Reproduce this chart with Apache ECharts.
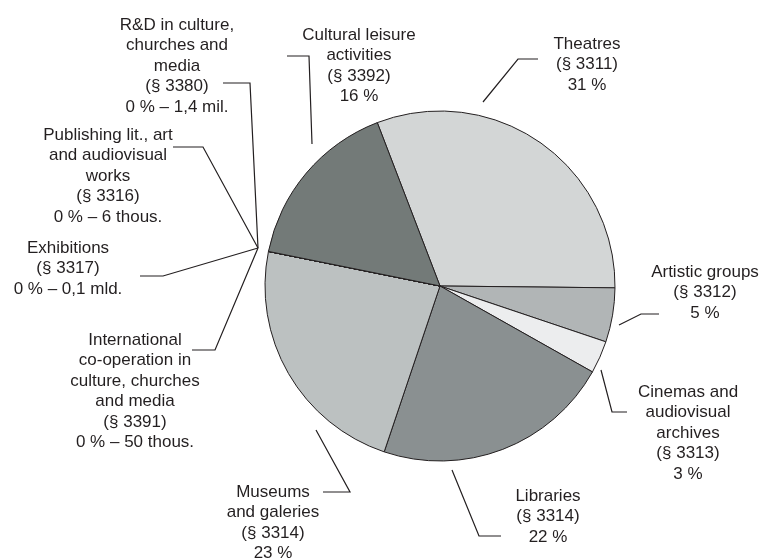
<!DOCTYPE html>
<html>
<head>
<meta charset="utf-8">
<script src="https://cdn.jsdelivr.net/npm/echarts@6/dist/echarts.min.js"></script>
<style>
  html, body { margin: 0; padding: 0; background: #fff; }
  #chart { width: 763px; height: 558px; }
</style>
</head>
<body>
<div id="chart"></div>
<script>
// data, clockwise from the top
var categories = ['Theatres', 'Artistic groups', 'Cinemas and\naudiovisual\narchives', 'Libraries',
    'Museums\nand galeries', 'International\nco-operation in\nculture, churches\nand media',
    'Exhibitions', 'Publishing lit., art\nand audiovisual\nworks', 'R&D in culture,\nchurches and\nmedia',
    'Cultural leisure\nactivities']
var codes = ['3311', '3312', '3313', '3314', '3314', '3391', '3317', '3316', '3380', '3392']
var shares = [31, 5, 3, 22, 23, 0, 0, 0, 0, 16]
var amounts = ['', '', '', '', '', '50 thous.', '0,1 mld.', '6 thous.', '1,4 mil.', '']

// styling / layout
var fills = ['#d3d6d6', '#b1b5b6', '#ecedee', '#8a9091', '#bcc1c1', '#bcc1c1', '#bcc1c1', '#bcc1c1', '#bcc1c1', '#737a78']
// label anchor: centre x, centre of first line y
var labelPos = [[587, 44], [705, 272], [688, 392], [548, 496], [273, 492], [135, 340], [68, 248], [108, 135], [177, 25], [359, 35]]
var leaders = [
    [[483, 102], [518, 59], [538, 59]],
    [[619, 325], [641, 314], [659, 314]],
    [[601, 370], [612, 412], [627, 412]],
    [[452, 470], [479, 536], [501, 536]],
    [[316, 430], [350, 492], [323, 492]],
    [[258, 248], [215, 350], [192, 350]],
    [[258, 248], [163, 276], [140, 276]],
    [[258, 248], [203, 147], [173, 147]],
    [[258, 248], [250, 83], [223, 83]],
    [[312, 144], [309, 56], [287, 56]]
]
var LH = 20.5

var pieData = []
for (var i = 0; i < categories.length; i++) {
    pieData.push({
        name: categories[i],
        value: shares[i],
        itemStyle: { color: fills[i] }
    })
}

var chart = echarts.init(document.getElementById('chart'))
var option = {
    animation: false,
    series: [
        {
            type: 'pie',
            center: [440, 286],
            radius: 175,
            startAngle: 111,
            clockwise: true,
            avoidLabelOverlap: false,
            minShowLabelAngle: 0,
            data: pieData,
            itemStyle: { borderColor: '#231f20', borderWidth: 1 },
            emphasis: { disabled: true },
            label: {
                show: true,
                position: 'outside',
                color: '#231f20',
                fontFamily: 'Liberation Sans, Arial, sans-serif',
                fontSize: 17,
                lineHeight: LH,
                align: 'center',
                formatter: function (p) {
                    var i = p.dataIndex
                    var last = shares[i] + ' %' + (amounts[i] ? ' \u2013 ' + amounts[i] : '')
                    return categories[i] + '\n(\u00a7 ' + codes[i] + ')\n' + last
                }
            },
            labelLine: {
                show: true,
                smooth: false,
                lineStyle: { color: '#231f20', width: 1.2 }
            },
            labelLayout: function (params) {
                var i = params.dataIndex
                return {
                    x: labelPos[i][0],
                    y: labelPos[i][1] - LH / 2,
                    align: 'center',
                    verticalAlign: 'top',
                    labelLinePoints: leaders[i]
                }
            }
        }
    ]
}
chart.setOption(option)
</script>
</body>
</html>
